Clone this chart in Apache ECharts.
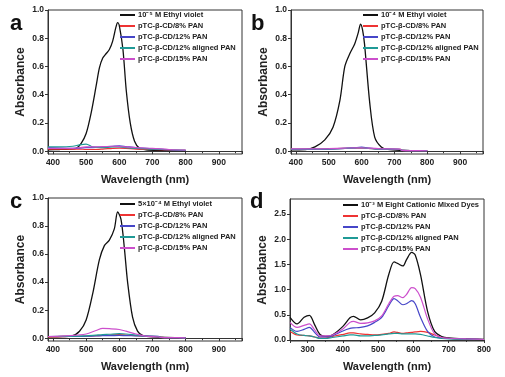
<!DOCTYPE html>
<html>
<head>
<meta charset="utf-8">
<script src="https://cdn.jsdelivr.net/npm/echarts@6/dist/echarts.min.js"></script>
<style>
  html, body { margin: 0; padding: 0; background: #fff; }
  #chart { width: 505px; height: 377px; }
</style>
</head>
<body>
<div id="chart"></div>
<script>
// panel a — 10^-5 M Ethyl violet
const aBlackX = [385, 420, 450, 470, 485, 500, 515, 530, 540, 550, 560, 570, 580, 590, 595, 600, 611, 621, 633, 646, 661, 680, 720, 800]
const aBlackY = [0.01, 0.012, 0.015, 0.02, 0.055, 0.125, 0.27, 0.46, 0.59, 0.66, 0.69, 0.72, 0.78, 0.88, 0.91, 0.89, 0.72, 0.43, 0.2, 0.07, 0.02, 0.01, 0.006, 0.004]
const aX = [385, 420, 460, 480, 500, 520, 550, 580, 600, 620, 650, 700, 750, 800]
const aRed = [0.015, 0.015, 0.015, 0.015, 0.012, 0.012, 0.015, 0.02, 0.022, 0.02, 0.015, 0.012, 0.008, 0.005]
const aBlue = [0.025, 0.022, 0.02, 0.022, 0.025, 0.025, 0.03, 0.035, 0.038, 0.033, 0.025, 0.018, 0.01, 0.006]
const aTeal = [0.03, 0.03, 0.035, 0.045, 0.05, 0.03, 0.025, 0.03, 0.03, 0.025, 0.02, 0.015, 0.01, 0.006]
const aPink = [0.02, 0.02, 0.02, 0.025, 0.03, 0.03, 0.032, 0.035, 0.033, 0.03, 0.025, 0.02, 0.012, 0.007]

// panel b — 10^-4 M Ethyl violet
const bBlackX = [385, 430, 458, 488, 513, 534, 549, 564, 579, 590, 597, 603, 609, 625, 640, 660, 680, 720, 800]
const bBlackY = [0.01, 0.012, 0.03, 0.08, 0.17, 0.36, 0.6, 0.69, 0.76, 0.84, 0.9, 0.86, 0.76, 0.34, 0.1, 0.03, 0.012, 0.006, 0.004]
const bX = [385, 450, 500, 550, 580, 600, 620, 660, 718, 722, 760, 800]
const bRed = [0.015, 0.015, 0.017, 0.02, 0.022, 0.022, 0.02, 0.016, 0.013, 0.005, 0.004, 0.003]
const bBlue = [0.012, 0.013, 0.015, 0.02, 0.025, 0.028, 0.022, 0.015, 0.012, 0.005, 0.004, 0.003]
const bTeal = [0.014, 0.014, 0.016, 0.02, 0.022, 0.024, 0.02, 0.015, 0.012, 0.005, 0.004, 0.003]
const bPink = [0.016, 0.016, 0.018, 0.022, 0.024, 0.024, 0.021, 0.017, 0.014, 0.006, 0.004, 0.003]

// panel c — 5x10^-4 M Ethyl violet
const cBlackX = [385, 430, 455, 480, 500, 520, 540, 555, 570, 585, 595, 605, 615, 625, 640, 655, 670, 700, 800]
const cBlackY = [0.01, 0.012, 0.015, 0.05, 0.13, 0.32, 0.56, 0.66, 0.7, 0.78, 0.9, 0.85, 0.65, 0.4, 0.15, 0.05, 0.02, 0.01, 0.004]
const cX = [385, 450, 500, 530, 550, 570, 600, 620, 650, 680, 718, 725, 760, 800]
const cRed = [0.01, 0.012, 0.015, 0.018, 0.02, 0.022, 0.025, 0.022, 0.018, 0.014, 0.012, 0.006, 0.004, 0.003]
const cBlue = [0.012, 0.012, 0.014, 0.016, 0.018, 0.018, 0.02, 0.018, 0.017, 0.015, 0.014, 0.005, 0.004, 0.003]
const cTeal = [0.012, 0.013, 0.016, 0.022, 0.026, 0.028, 0.032, 0.03, 0.022, 0.015, 0.012, 0.006, 0.004, 0.003]
const cPink = [0.012, 0.018, 0.03, 0.055, 0.07, 0.068, 0.062, 0.05, 0.03, 0.015, 0.01, 0.006, 0.004, 0.003]

// panel d — 10^-3 M mixed dyes
const dX = [250, 270, 290, 305, 320, 335, 350, 370, 400, 420, 430, 450, 470, 490, 510, 530, 545, 555, 570, 580, 595, 605, 620, 640, 660, 680, 700, 750, 800]
const dBlack = [0.45, 0.32, 0.45, 0.49, 0.3, 0.11, 0.07, 0.1, 0.27, 0.44, 0.47, 0.4, 0.44, 0.54, 0.77, 1.3, 1.55, 1.52, 1.47, 1.59, 1.74, 1.69, 1.3, 0.57, 0.17, 0.07, 0.04, 0.02, 0.01]
const dRed = [0.17, 0.1, 0.09, 0.08, 0.06, 0.04, 0.04, 0.07, 0.11, 0.14, 0.14, 0.12, 0.11, 0.1, 0.11, 0.13, 0.16, 0.15, 0.13, 0.14, 0.15, 0.16, 0.17, 0.15, 0.1, 0.05, 0.03, 0.02, 0.01]
const dBlue = [0.25, 0.17, 0.21, 0.25, 0.15, 0.06, 0.06, 0.08, 0.18, 0.23, 0.24, 0.25, 0.28, 0.35, 0.45, 0.68, 0.82, 0.78, 0.7, 0.72, 0.78, 0.72, 0.45, 0.17, 0.06, 0.04, 0.03, 0.02, 0.01]
const dTeal = [0.22, 0.12, 0.09, 0.08, 0.06, 0.03, 0.03, 0.05, 0.08, 0.1, 0.1, 0.08, 0.08, 0.09, 0.1, 0.12, 0.13, 0.13, 0.12, 0.12, 0.12, 0.12, 0.11, 0.08, 0.05, 0.03, 0.02, 0.015, 0.01]
const dPink = [0.35, 0.25, 0.29, 0.32, 0.2, 0.08, 0.08, 0.1, 0.22, 0.35, 0.37, 0.33, 0.34, 0.38, 0.48, 0.72, 0.87, 0.88, 0.84, 0.9, 1.04, 1.02, 0.85, 0.42, 0.12, 0.05, 0.035, 0.02, 0.01]

const seriesNames = ['pTC-β-CD/8% PAN', 'pTC-β-CD/12% PAN', 'pTC-β-CD/12% aligned PAN', 'pTC-β-CD/15% PAN']
const blackNames = ['10⁻⁵ M Ethyl violet', '10⁻⁴ M Ethyl violet', '5×10⁻⁴ M Ethyl violet', '10⁻³ M Eight Cationic Mixed Dyes']
const colors = ['#ee3333', '#4646c8', '#1f9a96', '#cc4fcc']

const zip = (xs, ys) => xs.map((x, i) => [x, ys[i]])

const panels = [
  { grid: { left: 48, top: 10, width: 194, height: 144 }, xmin: 385, xmax: 970, ymax: 1.0,
    black: zip(aBlackX, aBlackY), cols: [aRed, aBlue, aTeal, aPink].map(v => zip(aX, v)), legend: { left: 120, top: 11 } },
  { grid: { left: 291, top: 10, width: 192, height: 144 }, xmin: 385, xmax: 970, ymax: 1.0,
    black: zip(bBlackX, bBlackY), cols: [bRed, bBlue, bTeal, bPink].map(v => zip(bX, v)), legend: { left: 363, top: 11 } },
  { grid: { left: 48, top: 198, width: 194, height: 143 }, xmin: 385, xmax: 970, ymax: 1.0,
    black: zip(cBlackX, cBlackY), cols: [cRed, cBlue, cTeal, cPink].map(v => zip(cX, v)), legend: { left: 120, top: 200 } },
  { grid: { left: 290, top: 199, width: 194, height: 142 }, xmin: 250, xmax: 800, ymax: 2.8,
    black: zip(dX, dBlack), cols: [dRed, dBlue, dTeal, dPink].map(v => zip(dX, v)), legend: { left: 343, top: 201 } }
]

const tickFont = { fontSize: 8.5, color: '#222', fontFamily: 'Liberation Sans, Arial', fontWeight: 'bold' }
const nameFont = { fontSize: 11, color: '#222', fontFamily: 'Liberation Sans, Arial', fontWeight: 'bold' }
const yNameFont = { fontSize: 12, color: '#222', fontFamily: 'Liberation Sans, Arial', fontWeight: 'bold' }

const grid = []
const xAxis = []
const yAxis = []
const series = []
const legend = []

panels.forEach((p, i) => {
  grid.push(Object.assign({ show: true, borderColor: '#333', borderWidth: 1, backgroundColor: '#fff' }, p.grid))
  xAxis.push({
    gridIndex: i, type: 'value', min: p.xmin, max: p.xmax,
    name: 'Wavelength (nm)', nameLocation: 'middle', nameGap: 20, nameTextStyle: nameFont,
    axisLine: { lineStyle: { color: '#333' } },
    axisTick: { length: 3, lineStyle: { color: '#333' } },
    minorTick: { show: true, splitNumber: 2, length: 2, lineStyle: { color: '#333' } },
    axisLabel: Object.assign({ margin: 4, showMinLabel: false, showMaxLabel: i === 3 }, tickFont),
    splitLine: { show: false }
  })
  yAxis.push({
    gridIndex: i, type: 'value', min: -0.02, max: p.ymax,
    name: 'Absorbance', nameLocation: 'middle', nameGap: 21, nameTextStyle: yNameFont,
    axisLine: { lineStyle: { color: '#333' } },
    axisTick: { length: 3, lineStyle: { color: '#333' } },
    axisLabel: Object.assign({ margin: 4, showMinLabel: false, showMaxLabel: i !== 3, formatter: v => v.toFixed(1) }, tickFont),
    splitLine: { show: false }
  })
  series.push({
    name: blackNames[i], type: 'line', xAxisIndex: i, yAxisIndex: i, data: p.black,
    showSymbol: false, smooth: 0.3, color: '#111', lineStyle: { width: 1.3 }, z: 3
  })
  p.cols.forEach((d, k) => {
    series.push({
      name: seriesNames[k], type: 'line', xAxisIndex: i, yAxisIndex: i, data: d,
      showSymbol: false, smooth: 0.3, color: colors[k], lineStyle: { width: 1.2 }
    })
  })
  legend.push(Object.assign({
    orient: 'vertical', itemWidth: 15, itemHeight: 2, itemGap: 3, icon: 'rect',
    data: [blackNames[i]].concat(seriesNames),
    textStyle: { fontSize: 7.5, fontWeight: 'bold', color: '#222', fontFamily: 'Liberation Sans, Arial', padding: [0, 0, 0, -2], lineHeight: 8 },
    selectedMode: false, padding: 0
  }, p.legend))
})

const labelStyle = { fontSize: 22, fontWeight: 'bold', fill: '#111', fontFamily: 'Liberation Sans, Arial' }
const chart = echarts.init(document.getElementById('chart'))
chart.setOption({
  animation: false,
  backgroundColor: '#fff',
  grid, xAxis, yAxis, series, legend,
  graphic: [
    { type: 'text', left: 10, top: 13, style: Object.assign({ text: 'a' }, labelStyle) },
    { type: 'text', left: 251, top: 13, style: Object.assign({ text: 'b' }, labelStyle) },
    { type: 'text', left: 10, top: 191, style: Object.assign({ text: 'c' }, labelStyle) },
    { type: 'text', left: 250, top: 191, style: Object.assign({ text: 'd' }, labelStyle) }
  ]
})
</script>
</body>
</html>
